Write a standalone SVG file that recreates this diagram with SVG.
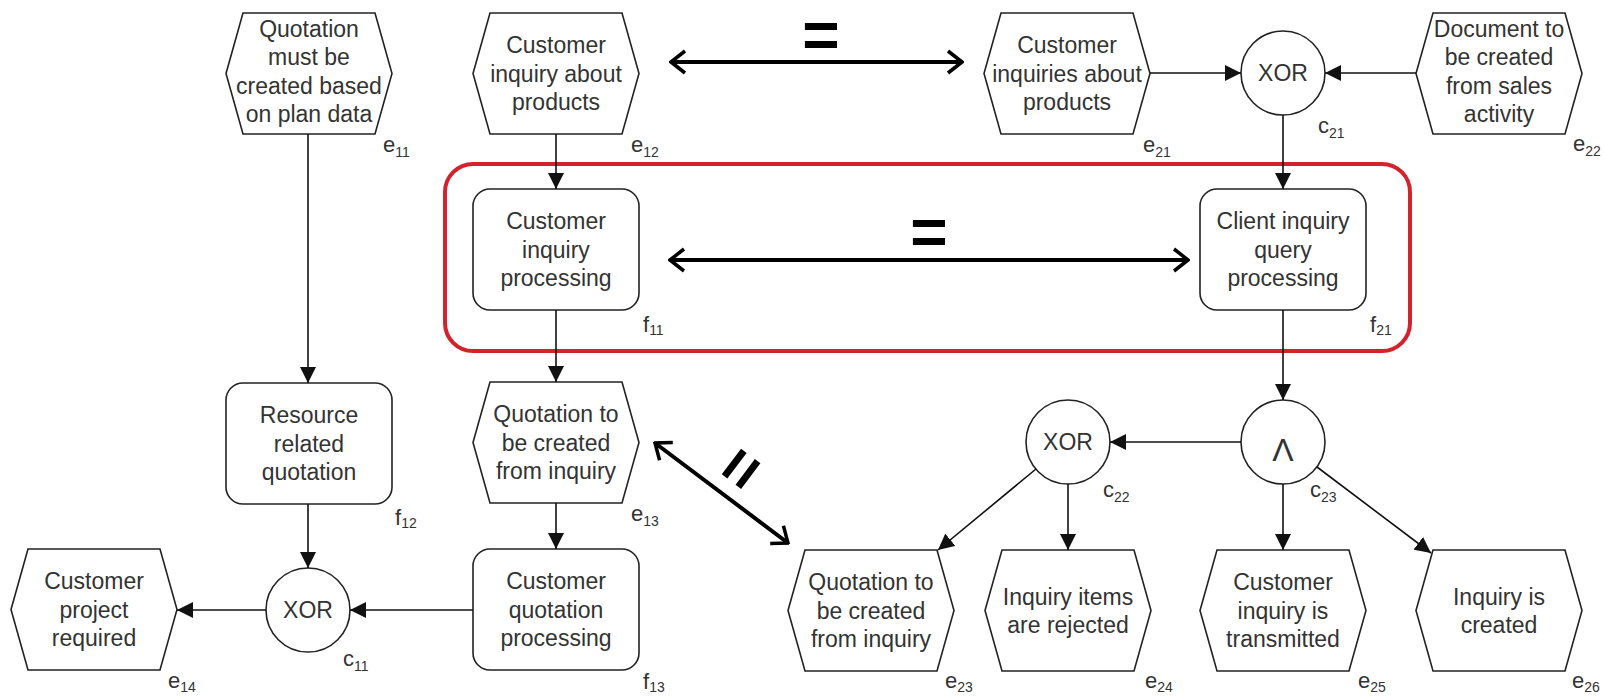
<svg xmlns="http://www.w3.org/2000/svg" xmlns:xlink="http://www.w3.org/1999/xlink" width="1604" height="697" viewBox="0 0 1604 697">
<style>
.shape{fill:#fff;stroke:#222;stroke-width:1.6}
.t{font-family:"Liberation Sans",Arial,sans-serif;font-size:23px;fill:#333;text-anchor:middle}
.lbl{font-family:"Liberation Sans",Arial,sans-serif;font-size:22px;fill:#333}
.sub{font-size:14px}
.conn{stroke:#111;stroke-width:1.6;fill:none;marker-end:url(#ah)}
.eq{stroke:#000;stroke-width:4;fill:none;marker-start:url(#ch);marker-end:url(#ch)}
.eqt{font-family:"Liberation Sans",Arial,sans-serif;font-size:64px;font-weight:bold;text-anchor:middle;fill:#000}
.red{fill:none;stroke:#d3222c;stroke-width:4}
</style>
<defs>
<polygon id="hex" class="shape" points="17,0 149,0 166,60.5 149,121 17,121 0,60.5"/>
<rect id="fn" class="shape" width="166" height="121" rx="17"/>
<marker id="ah" viewBox="0 0 16 16" refX="16" refY="8" markerWidth="16" markerHeight="16" markerUnits="userSpaceOnUse" orient="auto"><path d="M0,0 L16,8 L0,16 z" fill="#111"/></marker>
<marker id="ch" viewBox="-17 -14 19 28" refX="0" refY="0" markerWidth="19" markerHeight="28" markerUnits="userSpaceOnUse" orient="auto-start-reverse"><path d="M-14,-11 L0,0 L-14,11" fill="none" stroke="#000" stroke-width="3.5"/></marker>
</defs>
<rect width="1604" height="697" fill="#fff"/>
<rect id="highlight" class="red" x="445" y="164" width="965" height="187" rx="28"/>

<g id="e11"><use xlink:href="#hex" x="226" y="13"/>
<text class="t" x="309"><tspan x="309" y="37">Quotation</tspan><tspan x="309" y="65">must be</tspan><tspan x="309" y="94">created based</tspan><tspan x="309" y="122">on plan data</tspan></text>
<text class="lbl" x="383" y="152">e<tspan class="sub" dy="5">11</tspan></text></g>

<g id="e12"><use xlink:href="#hex" x="473" y="13"/>
<text class="t"><tspan x="556" y="53">Customer</tspan><tspan x="556" y="81.5">inquiry about</tspan><tspan x="556" y="110">products</tspan></text>
<text class="lbl" x="631" y="152">e<tspan class="sub" dy="5">12</tspan></text></g>

<g id="e21"><use xlink:href="#hex" x="984" y="13"/>
<text class="t"><tspan x="1067" y="53">Customer</tspan><tspan x="1067" y="81.5">inquiries about</tspan><tspan x="1067" y="110">products</tspan></text>
<text class="lbl" x="1143" y="152">e<tspan class="sub" dy="5">21</tspan></text></g>

<g id="c21"><circle class="shape" cx="1283" cy="73" r="42"/>
<text class="t" x="1283" y="81">XOR</text>
<text class="lbl" x="1318" y="133">c<tspan class="sub" dy="5">21</tspan></text></g>

<g id="e22"><use xlink:href="#hex" x="1416" y="13"/>
<text class="t"><tspan x="1499" y="37">Document to</tspan><tspan x="1499" y="65">be created</tspan><tspan x="1499" y="94">from sales</tspan><tspan x="1499" y="122">activity</tspan></text>
<text class="lbl" x="1573" y="151">e<tspan class="sub" dy="5">22</tspan></text></g>

<g id="f11"><use xlink:href="#fn" x="473" y="189"/>
<text class="t"><tspan x="556" y="229">Customer</tspan><tspan x="556" y="257.5">inquiry</tspan><tspan x="556" y="286">processing</tspan></text>
<text class="lbl" x="643" y="332">f<tspan class="sub" dy="3">11</tspan></text></g>

<g id="f21"><use xlink:href="#fn" x="1200" y="189"/>
<text class="t"><tspan x="1283" y="229">Client inquiry</tspan><tspan x="1283" y="257.5">query</tspan><tspan x="1283" y="286">processing</tspan></text>
<text class="lbl" x="1370" y="332">f<tspan class="sub" dy="3">21</tspan></text></g>

<g id="f12"><use xlink:href="#fn" x="226" y="383"/>
<text class="t"><tspan x="309" y="423">Resource</tspan><tspan x="309" y="451.5">related</tspan><tspan x="309" y="480">quotation</tspan></text>
<text class="lbl" x="395" y="525">f<tspan class="sub" dy="3">12</tspan></text></g>

<g id="e13"><use xlink:href="#hex" x="473" y="382"/>
<text class="t"><tspan x="556" y="422">Quotation to</tspan><tspan x="556" y="450.5">be created</tspan><tspan x="556" y="479">from inquiry</tspan></text>
<text class="lbl" x="631" y="521">e<tspan class="sub" dy="5">13</tspan></text></g>

<g id="c22"><circle class="shape" cx="1068" cy="442" r="42"/>
<text class="t" x="1068" y="450">XOR</text>
<text class="lbl" x="1103" y="497">c<tspan class="sub" dy="5">22</tspan></text></g>

<g id="c23"><circle class="shape" cx="1283" cy="442" r="42"/>
<text class="t" x="1283" y="461" style="font-size:32px">Λ</text>
<text class="lbl" x="1310" y="497">c<tspan class="sub" dy="5">23</tspan></text></g>

<g id="e14"><use xlink:href="#hex" x="11" y="549"/>
<text class="t"><tspan x="94" y="589">Customer</tspan><tspan x="94" y="617.5">project</tspan><tspan x="94" y="646">required</tspan></text>
<text class="lbl" x="168" y="688">e<tspan class="sub" dy="4">14</tspan></text></g>

<g id="c11"><circle class="shape" cx="308" cy="610" r="42"/>
<text class="t" x="308" y="618">XOR</text>
<text class="lbl" x="343" y="666">c<tspan class="sub" dy="5">11</tspan></text></g>

<g id="f13"><use xlink:href="#fn" x="473" y="549"/>
<text class="t"><tspan x="556" y="589">Customer</tspan><tspan x="556" y="617.5">quotation</tspan><tspan x="556" y="646">processing</tspan></text>
<text class="lbl" x="643" y="689">f<tspan class="sub" dy="3">13</tspan></text></g>

<g id="e23"><use xlink:href="#hex" x="788" y="550"/>
<text class="t"><tspan x="871" y="590">Quotation to</tspan><tspan x="871" y="618.5">be created</tspan><tspan x="871" y="647">from inquiry</tspan></text>
<text class="lbl" x="945" y="688">e<tspan class="sub" dy="4">23</tspan></text></g>

<g id="e24"><use xlink:href="#hex" x="985" y="550"/>
<text class="t"><tspan x="1068" y="604.5">Inquiry items</tspan><tspan x="1068" y="633">are rejected</tspan></text>
<text class="lbl" x="1145" y="688">e<tspan class="sub" dy="4">24</tspan></text></g>

<g id="e25"><use xlink:href="#hex" x="1200" y="550"/>
<text class="t"><tspan x="1283" y="590">Customer</tspan><tspan x="1283" y="618.5">inquiry is</tspan><tspan x="1283" y="647">transmitted</tspan></text>
<text class="lbl" x="1358" y="688">e<tspan class="sub" dy="4">25</tspan></text></g>

<g id="e26"><use xlink:href="#hex" x="1416" y="550"/>
<text class="t"><tspan x="1499" y="604.5">Inquiry is</tspan><tspan x="1499" y="633">created</tspan></text>
<text class="lbl" x="1572" y="688">e<tspan class="sub" dy="4">26</tspan></text></g>

<g id="connectors">
<path class="conn" d="M308,134 V383"/>
<path class="conn" d="M308,504 V568"/>
<path class="conn" d="M266,610 H177"/>
<path class="conn" d="M473,610 H350"/>
<path class="conn" d="M556,134 V189"/>
<path class="conn" d="M556,310 V382"/>
<path class="conn" d="M556,503 V549"/>
<path class="conn" d="M1150,73 H1241"/>
<path class="conn" d="M1416,73 H1325"/>
<path class="conn" d="M1283,115 V189"/>
<path class="conn" d="M1283,310 V400"/>
<path class="conn" d="M1241,442 H1110"/>
<path class="conn" d="M1068,484 V550"/>
<path class="conn" d="M1036,469 L938,550"/>
<path class="conn" d="M1283,484 V550"/>
<path class="conn" d="M1317,467 L1431,553"/>
</g>

<g id="equivalences">
<path class="eq" d="M671,62 H962"/>
<text class="eqt" x="821" y="56.5">=</text>
<path class="eq" d="M670,260 H1188"/>
<text class="eqt" x="929" y="253.5">=</text>
<path class="eq" d="M655,443 L788,543"/>
<text class="eqt" transform="translate(740,468) rotate(-53)" x="0" y="22.5">=</text>
</g>
</svg>
